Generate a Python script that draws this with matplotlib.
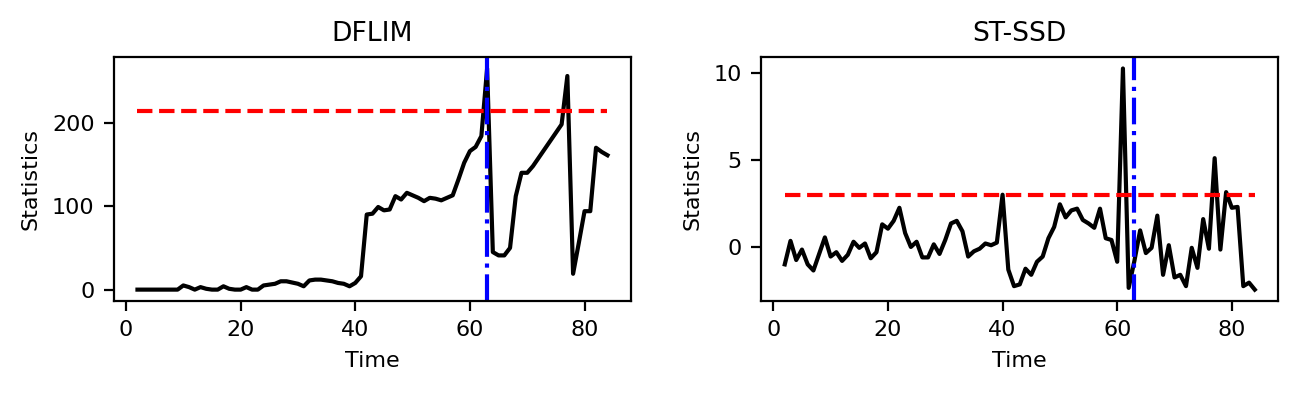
import numpy as np
import matplotlib
matplotlib.use("Agg")
import matplotlib.pyplot as plt

plt.rcParams['font.size'] = 8

# Tidsakse
t = np.arange(2, 85)

# DFLIM-statistikk, lest av figuren
dflim = [0, 0, 0, 0, 0, 0, 0, 0,            # t = 2..9
         5, 3, 0, 3, 1, 0, 0, 4, 1, 0,      # t = 10..19
         0, 3, 0, 0, 5, 6, 7, 10, 10, 8.5,  # t = 20..29
         7, 4, 11, 12, 12, 11, 10, 8, 7, 4, # t = 30..39
         8, 16, 90, 91, 99, 95, 96, 112, 108, 116,        # t = 40..49
         113, 110, 106, 110, 109, 107, 110, 113, 132, 152, # t = 50..59
         166, 171, 184, 265, 45, 41, 41, 50, 112, 140,     # t = 60..69
         140, 148, 158, 168, 178, 188, 198, 256, 19, 56,   # t = 70..79
         94, 94, 170, 165, 161]                            # t = 80..84
dflim_terskel = 214

# ST-SSD-statistikk
stssd = [-1.0, 0.35, -0.75, -0.15, -1.0, -1.35, -0.4, 0.55,          # t = 2..9
         -0.55, -0.3, -0.8, -0.45, 0.3, -0.05, 0.2, -0.65, -0.3, 1.3,  # t = 10..19
         1.05, 1.5, 2.25, 0.8, 0.0, 0.3, -0.6, -0.6, 0.15, -0.4,       # t = 20..29
         0.4, 1.35, 1.5, 0.9, -0.55, -0.25, -0.1, 0.2, 0.1, 0.25,      # t = 30..39
         3.0, -1.3, -2.25, -2.15, -1.25, -1.6, -0.85, -0.55, 0.5, 1.15, # t = 40..49
         2.45, 1.7, 2.1, 2.2, 1.55, 1.35, 1.1, 2.2, 0.5, 0.4,          # t = 50..59
         -0.85, 10.25, -2.35, -0.8, 0.95, -0.35, -0.05, 1.8, -1.6, 0.1, # t = 60..69
         -1.75, -1.6, -2.25, -0.05, -1.2, 1.6, -0.1, 5.1, -0.15, 3.15, # t = 70..79
         2.25, 2.3, -2.25, -2.05, -2.45]                               # t = 80..84
stssd_terskel = 3

endepunkt = 63  # tidspunkt for endring

fig, axes = plt.subplots(1, 2, figsize=(6.49, 1.98), dpi=200)

for ax, data, terskel, tittel in zip(axes, [dflim, stssd],
                                     [dflim_terskel, stssd_terskel],
                                     ["DFLIM", "ST-SSD"]):
    ax.plot(t, data, color='k', linewidth=1.5)
    ax.plot([t[0], t[-1]], [terskel, terskel], 'r--', linewidth=1.5)
    ax.axvline(endepunkt, color='b', linestyle='-.', linewidth=1.5)
    ax.set_title(tittel)
    ax.set_xlabel("Time")
    ax.set_ylabel("Statistics")
    ax.set_xticks([0, 20, 40, 60, 80])

axes[0].set_yticks([0, 100, 200])
axes[1].set_yticks([0, 5, 10])

fig.subplots_adjust(left=0.0878, right=0.9848, bottom=0.2407, top=0.855, wspace=0.252)
fig.savefig("out.png", dpi=200)
